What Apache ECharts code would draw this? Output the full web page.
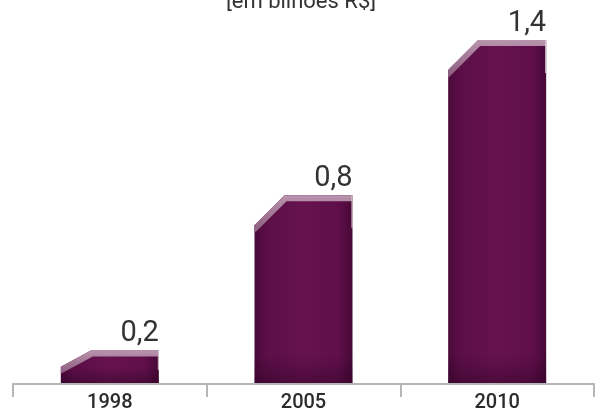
<!DOCTYPE html>
<html><head><meta charset="utf-8">
<script src="https://cdn.jsdelivr.net/npm/echarts@6/dist/echarts.min.js"></script>
<style>html,body{margin:0;padding:0;background:#fff}#c{width:601px;height:415px}</style>
</head><body><div id="c"></div>
<script>
const categories = ['1998', '2005', '2010'];
const values = [0.2, 0.8, 1.4];
const valueLabels = ['0,2', '0,8', '1,4'];
const titleText = '[em bilhões R$]';
const yMin = 0.07;
const yMax = 1.4;

const FONT = 'Roboto, "Liberation Sans", sans-serif';
const chart = echarts.init(document.getElementById('c'));

function renderItem(params, api) {
  const i = api.value(0);
  const v = api.value(1);
  const topPt = api.coord([i, v]);
  const cs = params.coordSys;
  const yb = cs.y + cs.height - 1;
  const bandW = api.size([1, 0])[0];
  const barW = bandW * 0.506;
  const x0 = topPt[0] - barW / 2;
  const x1 = x0 + barW;
  const yt = topPt[1];
  const h = yb - yt;
  const cdy = Math.min(30, h * 0.5);
  const cdx = 30;
  const shadeH = Math.min(28, h - cdy);
  const slope = cdy / cdx;
  const children = [
    {
      type: 'polygon',
      shape: { points: [[x0, yb], [x0, yt + cdy], [x0 + cdx, yt], [x1, yt], [x1, yb]] },
      style: {
        fill: new echarts.graphic.LinearGradient(0, 0, 1, 0, [
          { offset: 0, color: '#4a0939' },
          { offset: 0.12, color: '#5b0e47' },
          { offset: 0.5, color: '#66124f' },
          { offset: 0.85, color: '#600f4b' },
          { offset: 1, color: '#470836' }
        ])
      }
    },
    {
      type: 'rect',
      shape: { x: x0, y: yb - shadeH, width: barW, height: shadeH },
      style: {
        fill: new echarts.graphic.LinearGradient(0, 0, 0, 1, [
          { offset: 0, color: 'rgba(35,0,28,0)' },
          { offset: 1, color: 'rgba(35,0,28,0.38)' }
        ])
      }
    },
    {
      type: 'polygon',
      shape: { points: [
        [x0, yt + cdy], [x0 + cdx, yt], [x1, yt], [x1, yt + 6],
        [x0 + cdx + 2, yt + 6], [x0, yt + cdy + 6 + 2 * slope]
      ] },
      style: {
        fill: new echarts.graphic.LinearGradient(0, 0, 0, 1, [
          { offset: 0, color: '#b994ad' },
          { offset: 1, color: '#8a5a7d' }
        ], false)
      }
    },
    {
      type: 'line',
      shape: { x1: x1 - 0.5, y1: yt, x2: x1 - 0.5, y2: yt + Math.min(33, h * 0.6) },
      style: { stroke: '#d9c9d3', lineWidth: 1 }
    },
    {
      type: 'text',
      style: {
        text: valueLabels[params.dataIndex],
        x: x1, y: yt - 2,
        align: 'right', verticalAlign: 'bottom',
        fontSize: 29, fontFamily: FONT, fill: '#333'
      }
    }
  ];
  return { type: 'group', children: children };
}

chart.setOption({
  animation: false,
  backgroundColor: '#fff',
  graphic: [{
    type: 'text',
    x: 301, y: 13,
    style: { text: titleText, align: 'center', verticalAlign: 'bottom', fontSize: 22, fontFamily: FONT, fill: '#333' }
  }],
  grid: { left: 13, right: 7, top: 40, bottom: 31 },
  xAxis: {
    type: 'category',
    data: categories,
    axisLine: { lineStyle: { color: '#b5b5b5', width: 2 } },
    axisTick: { show: true, length: 13, lineStyle: { color: '#b5b5b5', width: 2 } },
    axisLabel: { fontSize: 20, fontWeight: 500, color: '#2b2b2b', margin: 9, fontFamily: FONT }
  },
  yAxis: { type: 'value', min: yMin, max: yMax, show: false },
  series: [{
    type: 'custom',
    renderItem: renderItem,
    encode: { x: 0, y: 1 },
    clip: false,
    data: values.map((v, i) => [i, v])
  }]
});
</script></body></html>
